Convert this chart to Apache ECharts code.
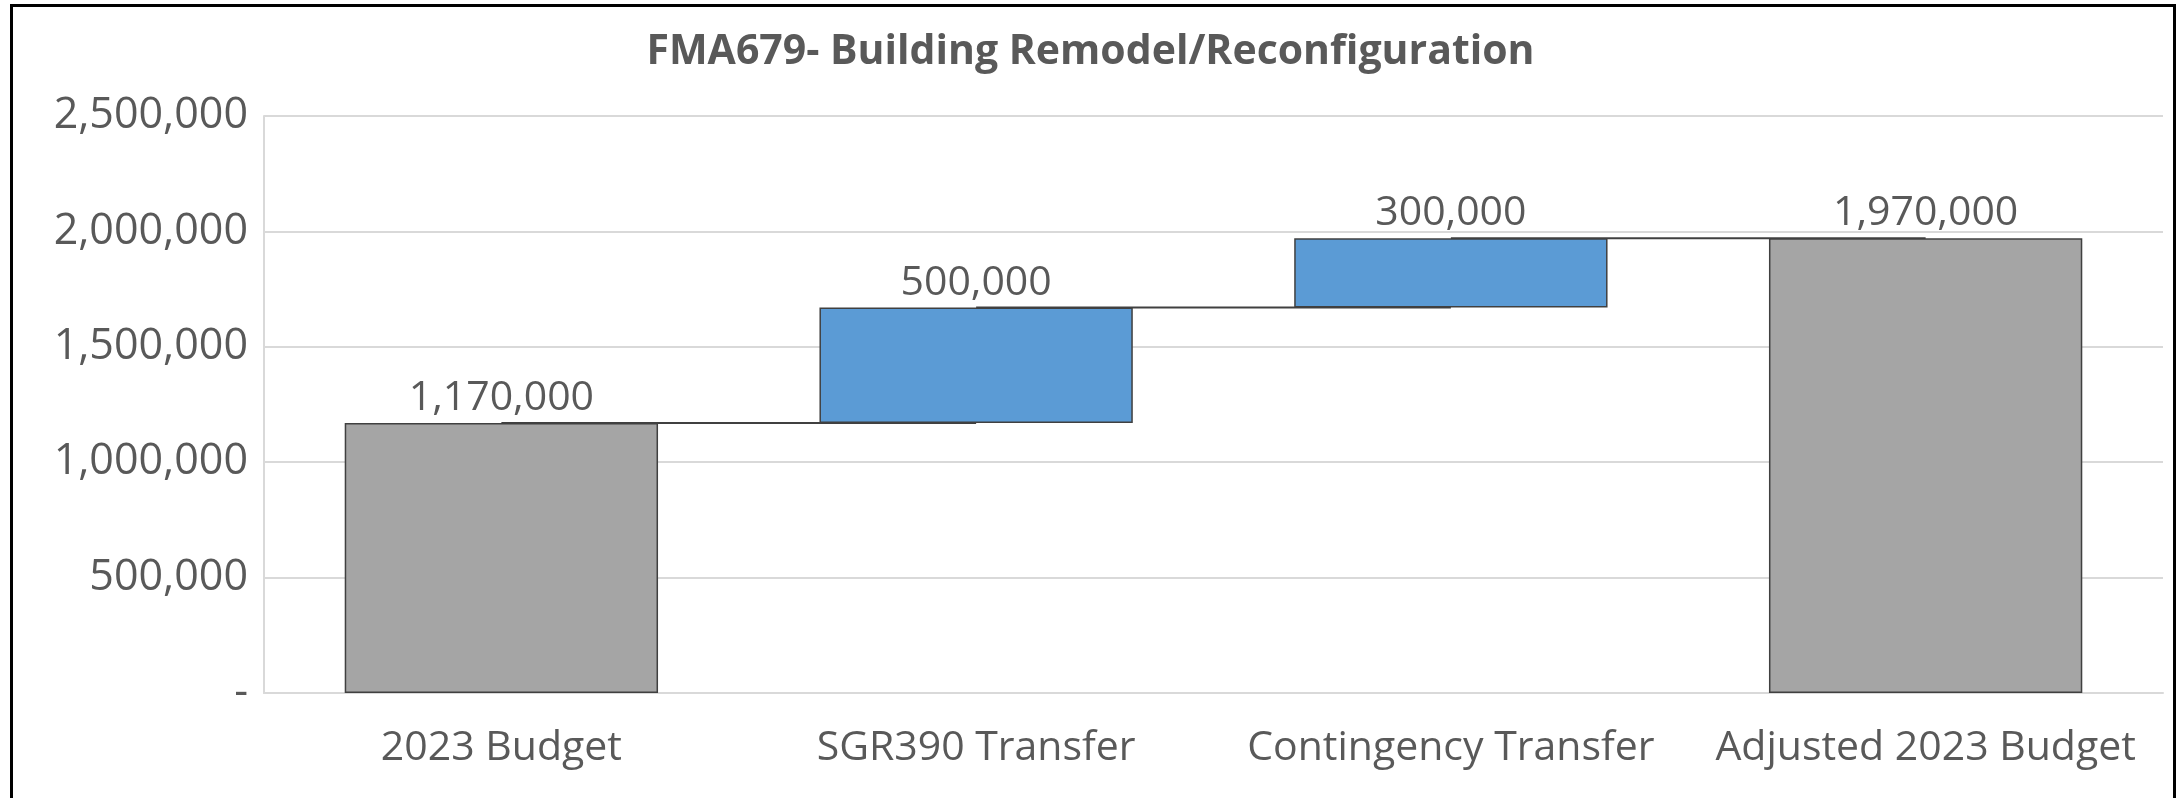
<!DOCTYPE html>
<html>
<head>
<meta charset="utf-8">
<script src="https://cdn.jsdelivr.net/npm/echarts@6/dist/echarts.min.js"></script>
<style>
  html, body { margin: 0; padding: 0; background: #fff; }
  #frame { position: absolute; left: 10px; top: 4px; width: 2166px; height: 800px; border: 3px solid #000; border-bottom: none; box-sizing: border-box; }
  #chart { position: absolute; left: 0; top: 0; width: 2181px; height: 798px; }
</style>
</head>
<body>
<div id="frame"></div>
<div id="chart"></div>
<script>
const categories = ["2023 Budget", "SGR390 Transfer", "Contingency Transfer", "Adjusted 2023 Budget"];
const amounts = [1170000, 500000, 300000, 1970000];
const isTotal = [true, false, false, true];
const yTicks = [0, 500000, 1000000, 1500000, 2000000, 2500000];

const fmt = (v) => (v === 0 ? "-" : v.toLocaleString("en-US"));

// invisible base for each floating bar, and running level after each bar
const bases = [];
const levels = [];
let run = 0;
amounts.forEach((v, i) => {
  if (isTotal[i]) {
    bases.push(0);
    run = v;
  } else {
    bases.push(run);
    run += v;
  }
  levels.push(run);
});
const connectors = levels.slice(0, -1).map((lv, i) => [i, lv]);

const chart = echarts.init(document.getElementById("chart"));
const textColor = "#595959";
const font = "'Open Sans', sans-serif";

const option = {
  animation: false,
  title: {
    text: "FMA679- Building Remodel/Reconfiguration",
    left: "center",
    top: 27,
    textStyle: { fontFamily: font, fontSize: 41, fontWeight: "bold", color: textColor },
  },
  grid: { left: 264, right: 18, top: 116, bottom: 105 },
  xAxis: {
    type: "category",
    data: categories,
    axisTick: { show: false },
    axisLine: { lineStyle: { color: "#d9d9d9", width: 2 } },
    axisLabel: { fontFamily: font, fontSize: 41, color: textColor, margin: 35, interval: 0 },
  },
  yAxis: {
    type: "value",
    min: yTicks[0],
    max: yTicks[yTicks.length - 1],
    interval: yTicks[1] - yTicks[0],
    axisLine: { show: true, lineStyle: { color: "#d9d9d9", width: 2 } },
    axisTick: { show: false },
    splitLine: { lineStyle: { color: "#d9d9d9", width: 2 } },
    axisLabel: { fontFamily: font, fontSize: 43, color: textColor, margin: 16, formatter: fmt },
  },
  series: [
    {
      type: "custom",
      z: 1,
      data: connectors,
      renderItem(params, api) {
        const i = api.value(0);
        const lv = api.value(1);
        const p1 = api.coord([i, lv]);
        const p2 = api.coord([i + 1, lv]);
        return {
          type: "line",
          shape: { x1: p1[0], y1: p1[1], x2: p2[0], y2: p2[1] },
          style: { stroke: "#404040", lineWidth: 2 },
        };
      },
    },
    {
      type: "bar",
      stack: "w",
      z: 2,
      barCategoryGap: "34%",
      itemStyle: { color: "transparent" },
      emphasis: { disabled: true },
      data: bases,
    },
    {
      type: "bar",
      stack: "w",
      z: 3,
      data: amounts.map((v, i) => ({
        value: v,
        itemStyle: { color: isTotal[i] ? "#a5a5a5" : "#5b9bd5", borderColor: "#404040", borderWidth: 1.5 },
      })),
      label: {
        show: true,
        position: "top",
        distance: 4,
        fontFamily: font,
        fontSize: 41,
        color: textColor,
        formatter: (p) => fmt(p.value),
      },
    },
  ],
};

chart.setOption(option);
</script>
</body>
</html>
